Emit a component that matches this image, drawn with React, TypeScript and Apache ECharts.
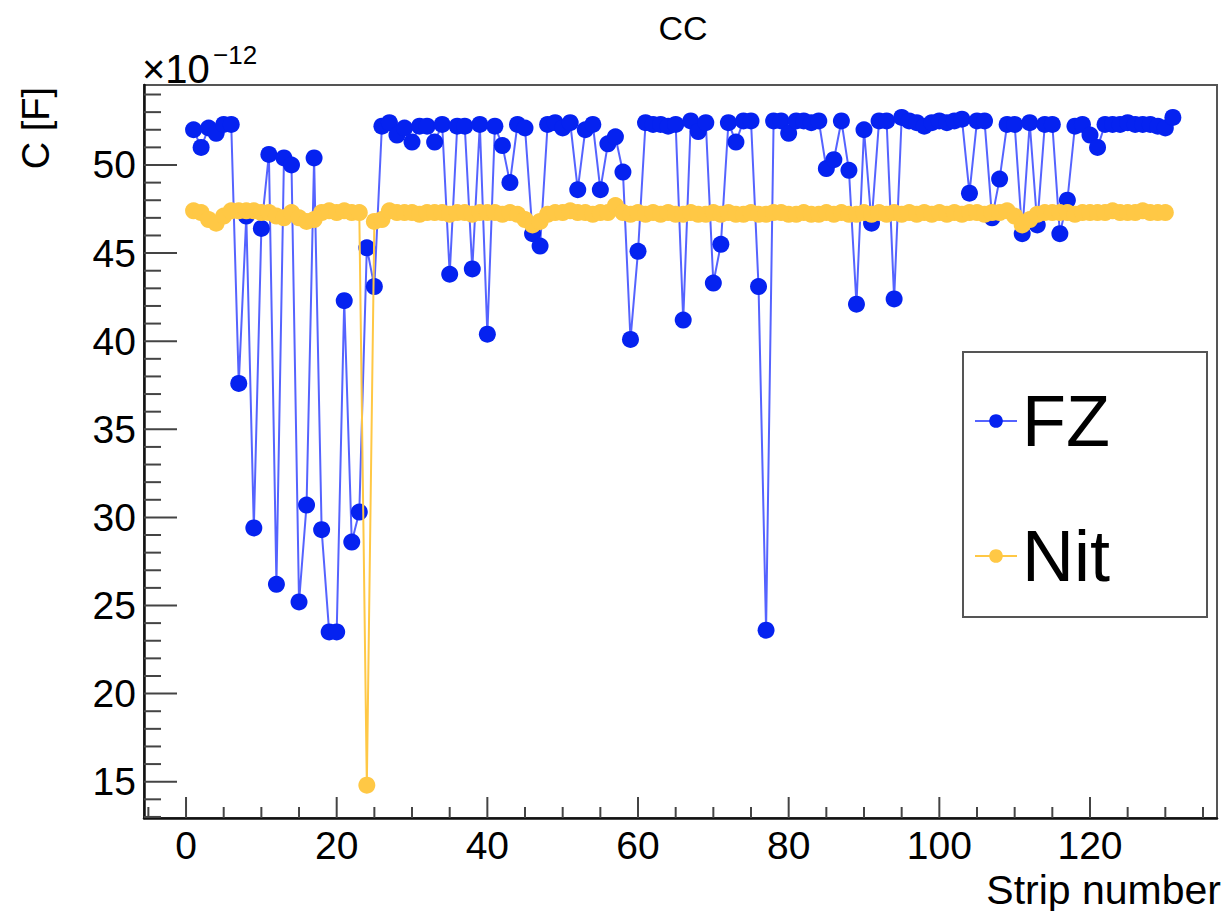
import React, { useEffect, useRef } from "react";
import * as echarts from "echarts";

// ---- data (values in units of 1e-12 F) ----
const SERIES_NAMES = ["FZ", "Nit"];

const FZ_VALUES = [
  52.0, 51.0, 52.1, 51.8, 52.3, 52.3, 37.6, 47.1, 29.4, 46.4,
  50.6, 26.2, 50.4, 50.0, 25.2, 30.7, 50.4, 29.3, 23.5, 23.5,
  42.3, 28.6, 30.3, 45.3, 43.1, 52.2, 52.4, 51.7, 52.1, 51.3,
  52.2, 52.2, 51.3, 52.3, 43.8, 52.2, 52.2, 44.1, 52.3, 40.4,
  52.2, 51.1, 49.0, 52.3, 52.1, 46.1, 45.4, 52.3, 52.4, 52.1,
  52.4, 48.6, 52.0, 52.3, 48.6, 51.2, 51.6, 49.6, 40.1, 45.1,
  52.4, 52.3, 52.3, 52.2, 52.3, 41.2, 52.5, 51.9, 52.4, 43.3,
  45.5, 52.4, 51.3, 52.5, 52.5, 43.1, 23.6, 52.5, 52.5, 51.8,
  52.5, 52.5, 52.4, 52.5, 49.8, 50.3, 52.5, 49.7, 42.1, 52.0,
  46.7, 52.5, 52.5, 42.4, 52.7, 52.5, 52.4, 52.2, 52.4, 52.5,
  52.4, 52.5, 52.6, 48.4, 52.5, 52.5, 47.0, 49.2, 52.3, 52.3,
  46.1, 52.4, 46.6, 52.3, 52.3, 46.1, 48.0, 52.2, 52.3, 51.7,
  51.0, 52.3, 52.3, 52.3, 52.4, 52.3, 52.3, 52.3, 52.2, 52.1,
  52.7,
];

const NIT_VALUES = [
  47.4, 47.3, 46.9, 46.7, 47.1, 47.4, 47.4, 47.4, 47.4, 47.3,
  47.3, 47.1, 47.0, 47.3, 47.0, 46.8, 46.9, 47.3, 47.4, 47.3,
  47.4, 47.3, 47.3, 14.8, 46.8, 46.9, 47.4, 47.3, 47.3, 47.3,
  47.2, 47.3, 47.3, 47.3, 47.2, 47.3, 47.3, 47.2, 47.3, 47.3,
  47.3, 47.2, 47.3, 47.2, 46.9, 46.6, 46.8, 47.2, 47.3, 47.3,
  47.4, 47.3, 47.3, 47.2, 47.3, 47.3, 47.7, 47.3, 47.2, 47.3,
  47.2, 47.3, 47.2, 47.3, 47.2, 47.2, 47.3, 47.2, 47.2, 47.3,
  47.2, 47.3, 47.2, 47.2, 47.3, 47.2, 47.2, 47.3, 47.3, 47.2,
  47.2, 47.3, 47.2, 47.2, 47.3, 47.2, 47.3, 47.2, 47.2, 47.3,
  47.2, 47.3, 47.2, 47.3, 47.2, 47.3, 47.2, 47.3, 47.2, 47.3,
  47.2, 47.3, 47.2, 47.3, 47.3, 47.2, 47.3, 47.3, 47.4, 47.1,
  46.6, 46.9, 47.2, 47.3, 47.3, 47.3, 47.3, 47.2, 47.3, 47.3,
  47.3, 47.3, 47.4, 47.3, 47.3, 47.3, 47.4, 47.3, 47.3, 47.3,
];

const X_TICK_LABELS = [0, 20, 40, 60, 80, 100, 120];
const Y_TICK_LABELS = [15, 20, 25, 30, 35, 40, 45, 50];

const X_MIN = -5.58;
const X_MAX = 136.86;
const Y_MIN = 12.94;
const Y_MAX = 54.54;

const FONT = "'Liberation Sans', Arial, Helvetica, sans-serif";
const BLUE = "#0522f0";
const BLUE_LINE = "#2a3cff";
const YELLOW = "#ffc845";

function buildTicks(): number[][] {
  const out: number[][] = [];
  for (let v = -5; v <= 135; v += 5) out.push([0, v, X_TICK_LABELS.includes(v) ? 1 : 0]);
  for (let v = 13; v <= 54; v += 1) out.push([1, v, Y_TICK_LABELS.includes(v) ? 1 : 0]);
  return out;
}

export default function App() {
  const ref = useRef<HTMLDivElement>(null);

  useEffect(() => {
    if (!ref.current) return;
    const chart = echarts.init(ref.current, null, { renderer: "svg" });

    const fzData = FZ_VALUES.map((v, i) => [i + 1, v]);
    const nitData = NIT_VALUES.map((v, i) => [i + 1, v]);

    const option: any = {
      animation: false,
      backgroundColor: "#ffffff",
      grid: {
        left: 144,
        right: 9,
        top: 85,
        bottom: 93,
        show: true,
        borderColor: "#555",
        borderWidth: 2,
        backgroundColor: "transparent",
      },
      xAxis: {
        type: "value",
        min: X_MIN,
        max: X_MAX,
        axisLine: { show: true, onZero: false, lineStyle: { color: "#111", width: 2.5 } },
        axisTick: { show: false },
        axisLabel: { show: false },
        splitLine: { show: false },
      },
      yAxis: {
        type: "value",
        min: Y_MIN,
        max: Y_MAX,
        axisLine: { show: true, onZero: false, lineStyle: { color: "#111", width: 2.5 } },
        axisTick: { show: false },
        axisLabel: { show: false },
        splitLine: { show: false },
      },
      legend: {
        data: SERIES_NAMES,
        orient: "vertical",
        left: 974,
        top: 385,
        padding: 0,
        itemWidth: 42,
        itemHeight: 17,
        itemGap: 63,
        z: 10,
        textStyle: { fontSize: 72, lineHeight: 72, fontFamily: FONT, color: "#000" },
      },
      graphic: [
        {
          type: "text",
          x: 683,
          y: 28,
          style: { text: "CC", fontSize: 34, fontFamily: FONT, fill: "#000", align: "center", verticalAlign: "middle" },
        },
        {
          type: "text",
          x: 142,
          y: 89,
          style: { text: "×10", fontSize: 40, fontFamily: FONT, fill: "#000", align: "left", verticalAlign: "bottom" },
        },
        {
          type: "text",
          x: 213,
          y: 68,
          style: { text: "−12", fontSize: 26, fontFamily: FONT, fill: "#000", align: "left", verticalAlign: "bottom" },
        },
        {
          type: "text",
          x: 36,
          y: 87,
          rotation: Math.PI / 2,
          style: { text: "C [F]", fontSize: 38, fontFamily: FONT, fill: "#000", align: "right", verticalAlign: "middle" },
        },
        {
          type: "text",
          x: 1221,
          y: 910,
          style: { text: "Strip number", fontSize: 41, fontFamily: FONT, fill: "#000", align: "right", verticalAlign: "bottom" },
        },
        {
          type: "rect",
          z: 3,
          shape: { x: 963, y: 352, width: 244, height: 265 },
          style: { fill: "#fff", stroke: "#555", lineWidth: 2 },
        },
      ],
      series: [
        {
          type: "line",
          name: "FZ",
          data: fzData,
          symbol: "circle",
          symbolSize: 17,
          itemStyle: { color: BLUE },
          lineStyle: { color: BLUE_LINE, width: 2, opacity: 0.8 },
          z: 2,
        },
        {
          type: "line",
          name: "Nit",
          data: nitData,
          symbol: "circle",
          symbolSize: 17,
          itemStyle: { color: YELLOW },
          lineStyle: { color: YELLOW, width: 2 },
          z: 3,
        },
        {
          type: "custom",
          name: "ticks",
          silent: true,
          z: 6,
          data: buildTicks(),
          renderItem: (_params: any, api: any) => {
            const axis = api.value(0);
            const v = api.value(1);
            const major = api.value(2) === 1;
            const children: any[] = [];
            if (axis === 0) {
              const p = api.coord([v, Y_MIN]);
              const len = major ? 21 : 11;
              children.push({
                type: "line",
                shape: { x1: p[0], y1: p[1], x2: p[0], y2: p[1] - len },
                style: { stroke: "#444", lineWidth: 2 },
              });
              if (major) {
                children.push({
                  type: "text",
                  x: p[0],
                  y: p[1] + 27,
                  style: { text: String(v), fontSize: 39, fontFamily: FONT, fill: "#000", align: "center", verticalAlign: "middle" },
                });
              }
            } else {
              const p = api.coord([X_MIN, v]);
              const len = major ? 33 : 17;
              children.push({
                type: "line",
                shape: { x1: p[0], y1: p[1], x2: p[0] + len, y2: p[1] },
                style: { stroke: "#444", lineWidth: 2 },
              });
              if (major) {
                children.push({
                  type: "text",
                  x: p[0] - 8,
                  y: p[1],
                  style: { text: String(v), fontSize: 39, fontFamily: FONT, fill: "#000", align: "right", verticalAlign: "middle" },
                });
              }
            }
            return { type: "group", children };
          },
        },
      ],
    };

    chart.setOption(option);
    return () => chart.dispose();
  }, []);

  return (
    <div
      ref={ref}
      style={{ position: "absolute", left: 0, top: 0, width: 1226, height: 911, background: "#fff" }}
    />
  );
}
